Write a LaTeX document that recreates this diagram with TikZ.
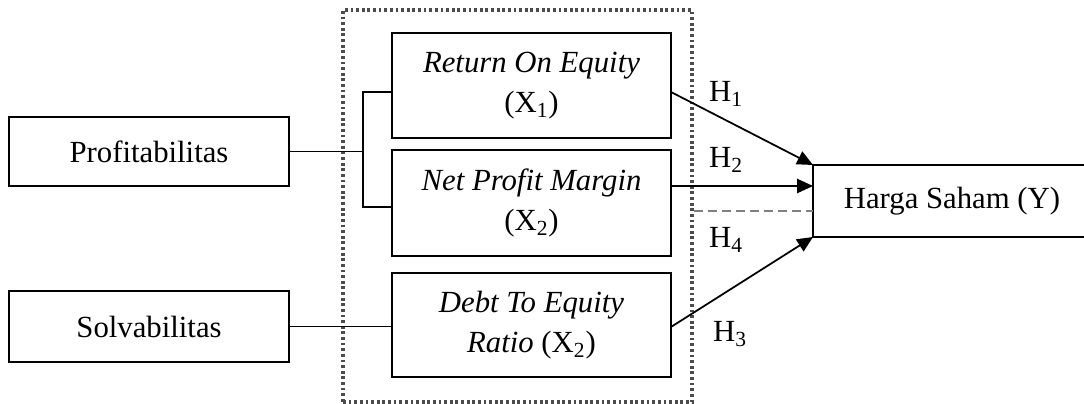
\documentclass[tikz,border=0pt]{standalone}
\usepackage{fontspec}
\setmainfont{Liberation Serif}
\usepackage{tikz}
\usetikzlibrary{arrows.meta,positioning}

\begin{document}
\begin{tikzpicture}[x=0.02cm, y=-0.02cm, >={Triangle[length=9pt,width=8pt]},
    every node/.style={font=\fontsize{17.5}{23}\selectfont},
    varbox/.style={draw, line width=1pt, inner sep=0pt, outer sep=0pt, align=center},
    conn/.style={line width=1pt},
    hdash/.style={gray, line width=0.9pt, dash pattern=on 5pt off 3pt}]
    \useasboundingbox (0,0) rectangle (1084,404);

    % grouping box
    \node[draw=black!70, line width=2pt, dash pattern=on 1.6pt off 1.6pt, minimum width=6.98cm, minimum height=7.84cm, inner sep=0pt] (grp) at (517.5,206) {};

    \node[varbox, minimum width=5.6cm, minimum height=1.38cm] (prof) at (149,151.5) {Profitabilitas};
    \node[varbox, minimum width=5.6cm, minimum height=1.42cm] (solv) at (149,326.5) {Solvabilitas};

    \node[varbox, minimum width=5.58cm, minimum height=2.1cm] (roe) at (531.5,85.5) {\textit{Return On Equity}\\(X\textsubscript{1})};
    \node[varbox, minimum width=5.58cm, minimum height=2.12cm] (npm) at (531.5,203) {\textit{Net Profit Margin}\\(X\textsubscript{2})};
    \node[varbox, minimum width=5.58cm, minimum height=2.08cm] (der) at (531.5,325) {\textit{Debt To Equity}\\\textit{Ratio} (X\textsubscript{2})};

    \node[varbox, minimum width=5.56cm, minimum height=1.44cm] (harga) at (952,201) {Harga Saham (Y)};

    % fork from Profitabilitas
    \coordinate (fork) at (363,151.5);
    \draw[conn] (prof.east) -- (fork);
    \draw[conn] ([yshift=-0.13cm]roe.west) -| (fork) |- ([yshift=-0.08cm]npm.west);
    \draw[conn] (solv.east) -- (solv.east -| der.west);

    \draw[conn, ->] ([yshift=-0.13cm]roe.east) -- (harga.north west);
    \coordinate (h2in) at ([yshift=0.3cm]harga.west);
    \draw[conn, ->] (npm.east |- h2in) -- (h2in);
    \draw[conn, ->] ([yshift=-0.04cm]der.east) -- (harga.south west);

    \coordinate (dend) at ([yshift=-0.2cm]harga.west);
    \draw[hdash] (grp.east |- dend) -- (dend);

    \node (h1) at (726,94) {H\textsubscript{1}};
    \node (h2) at (726,160) {H\textsubscript{2}};
    \node (h4) at (726,240) {H\textsubscript{4}};
    \node (h3) at (730,334) {H\textsubscript{3}};
  \end{tikzpicture}
\end{document}
